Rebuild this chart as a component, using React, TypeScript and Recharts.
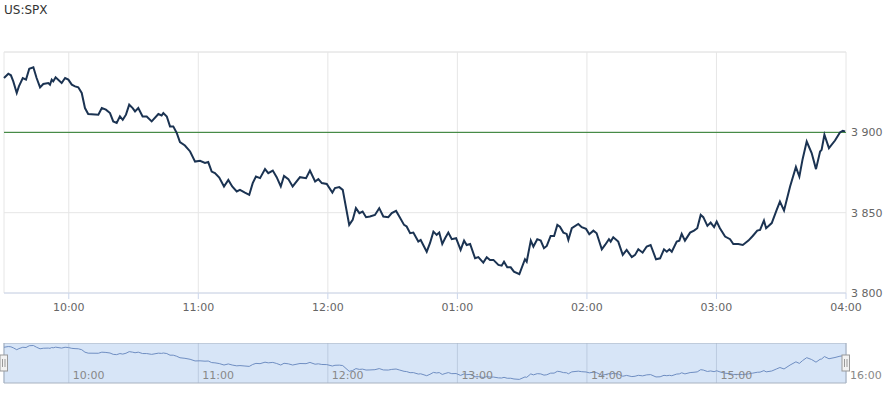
import {
  CartesianGrid,
  Line,
  LineChart,
  ReferenceArea,
  ReferenceDot,
  ReferenceLine,
  XAxis,
  YAxis
} from "recharts";

// minutes since 09:30
const minutes = [
  0, 2.0, 3.2, 4.3, 5.9, 6.9, 8.7, 10.2, 11.7, 13.6, 15.1, 16.7, 18.2, 20.5, 21.3, 22.1, 22.8, 23.9,
  26.7, 28.3, 29.8, 31.4, 32.9, 34.4, 36.0, 37.5, 39.0, 43.7, 45.3, 47.2, 49.1, 50.6, 52.2, 53.7,
  55.0, 56.5, 58.0, 59.6, 60.7, 62.2, 64.2, 66.1, 68.4, 71.5, 73.0, 73.8, 75.4, 76.9, 78.4, 80.0,
  81.5, 83.8, 86.2, 88.5, 90.8, 93.1, 94.6, 96.2, 97.7, 99.7, 101.9, 103.9, 105.7, 107.8, 109.3,
  111.6, 113.6, 115.2, 116.7, 118.6, 120.9, 122.4, 124.5, 126.3, 128.2, 129.7, 131.7, 133.7, 137.1,
  139.9, 141.7, 144.1, 145.6, 147.2, 149.5, 152.1, 153.3, 155.3, 156.9, 159.9, 161.5, 163.0, 164.6,
  166.1, 167.7, 169.5, 171.8, 173.8, 175.7, 178.0, 179.6, 181.6, 183.1, 185.3, 186.5, 188.1, 189.6,
  191.9, 193.0, 195.8, 197.3, 198.9, 200.4, 201.6, 203.0, 204.3, 205.8, 207.4, 209.4, 211.5, 213.1,
  214.3, 215.9, 218.2, 219.7, 222.0, 223.6, 225.1, 226.7, 229.0, 230.5, 231.6, 233.1, 234.7, 236.2,
  238.7, 241.3, 242.1, 244.0, 245.2, 247.0, 248.6, 250.1, 251.4, 253.2, 254.8, 256.3, 257.5, 259.1,
  260.6, 261.4, 263.0, 266.0, 267.6, 269.6, 271.1, 273.0, 274.5, 276.9, 278.4, 280.2, 281.0, 282.2,
  284.5, 286.6, 288.4, 290.8, 292.3, 293.8, 295.8, 297.7, 299.5, 302.0, 303.9, 305.7, 307.0, 308.2,
  309.3, 311.6, 312.8, 313.9, 315.4, 317.8, 319.6, 321.1, 322.7, 323.9, 325.8, 327.3, 328.9, 330.1,
  331.6, 334.0, 336.3, 337.8, 340.1, 342.2, 344.8, 346.8, 348.9, 350.2, 352.0, 353.0, 355.6, 357.9,
  359.4, 361.3, 364.1, 366.8, 368.4, 369.9, 371.8, 374.1, 376.1, 378.0, 378.7, 380.0, 382.1, 384.9,
  387.2, 388.5, 389.6
];

const prices = [
  3933.8, 3936.5, 3935.5, 3931.7, 3924.5, 3928.6, 3933.8, 3932.8, 3939.6, 3940.5, 3933.8, 3928.0,
  3930.1, 3930.7, 3929.7, 3932.8, 3931.7, 3934.2, 3930.7, 3933.8, 3932.8, 3929.7, 3928.6, 3928.0,
  3924.5, 3915.1, 3911.4, 3911.0, 3915.1, 3914.1, 3912.0, 3906.8, 3905.8, 3909.9, 3907.8, 3911.0,
  3917.2, 3915.1, 3913.0, 3915.1, 3909.9, 3909.9, 3906.8, 3911.4, 3910.5, 3912.0, 3909.9, 3903.7,
  3903.7, 3899.6, 3893.9, 3891.8, 3888.1, 3881.8, 3882.3, 3880.9, 3881.5, 3875.6, 3874.6, 3871.9,
  3866.3, 3870.4, 3866.3, 3863.2, 3864.2, 3862.5, 3861.1, 3868.4, 3872.5, 3871.5, 3877.1, 3874.6,
  3876.2, 3872.1, 3866.3, 3872.9, 3870.9, 3866.3, 3872.1, 3871.5, 3876.2, 3869.4, 3870.9, 3868.4,
  3867.9, 3862.5, 3865.3, 3865.9, 3864.2, 3842.4, 3845.5, 3852.8, 3849.7, 3850.7, 3847.2, 3847.6,
  3848.6, 3852.8, 3847.6, 3847.2, 3849.7, 3851.1, 3847.6, 3842.4, 3841.4, 3837.2, 3837.6, 3832.0,
  3833.0, 3825.7, 3831.0, 3838.2, 3836.2, 3837.6, 3830.5, 3834.1, 3837.6, 3833.5, 3834.1, 3826.8,
  3832.6, 3829.9, 3830.5, 3821.6, 3822.3, 3818.9, 3822.3, 3820.6, 3820.6, 3817.5, 3817.0, 3819.5,
  3816.0, 3816.0, 3813.3, 3811.7, 3821.0, 3819.5, 3832.6, 3828.9, 3833.5, 3832.6, 3827.9, 3829.3,
  3835.5, 3835.5, 3842.4, 3841.3, 3837.6, 3836.8, 3833.0, 3840.3, 3843.0, 3841.0, 3839.9, 3836.6,
  3838.8, 3837.2, 3827.2, 3829.9, 3833.5, 3832.0, 3834.7, 3832.0, 3823.7, 3826.8, 3822.3, 3823.7,
  3827.2, 3825.1, 3828.9, 3829.9, 3821.0, 3821.6, 3827.2, 3825.7, 3827.2, 3825.7, 3832.0, 3832.6,
  3836.8, 3832.6, 3837.6, 3838.8, 3840.3, 3848.6, 3847.2, 3841.8, 3843.8, 3841.0, 3844.5, 3840.3,
  3835.1, 3833.5, 3830.5, 3830.5, 3829.9, 3832.6, 3835.5, 3838.8, 3839.3, 3845.1, 3840.3, 3843.5,
  3851.7, 3856.9, 3851.3, 3866.3, 3878.4, 3872.5, 3883.3, 3894.3, 3887.1, 3877.1, 3888.1, 3889.1,
  3898.5, 3890.2, 3894.9, 3899.9, 3901.0, 3900.6
];

const previousClose = 3900;

const hourTicks = [30, 90, 150, 210, 270, 330, 390];
const hourLabels = ["10:00", "11:00", "12:00", "01:00", "02:00", "03:00", "04:00"];
const navLabels = ["10:00", "11:00", "12:00", "13:00", "14:00", "15:00", "16:00"];

const priceTicks = [3800, 3850, 3900];
const priceDomain = [3800, 3950];
const navDomain = [3798, 3950];

const data = minutes.map((m, i) => ({ m, v: prices[i] }));

const FONT = "'DejaVu Sans', Verdana, sans-serif";
const LABEL = { fontSize: 11, fill: "#666", fontFamily: FONT };

const fmtPrice = (v: number) =>
  `${Math.floor(v / 1000)} ${String(v % 1000).padStart(3, "0")}`;

const hourLabel = (v: number) => hourLabels[hourTicks.indexOf(v)] ?? "";

// navigator labels sit inside the band, left-aligned after the grid line
function NavTick(props: any) {
  const { x, y, payload } = props;
  const label = navLabels[hourTicks.indexOf(payload.value)] ?? "";
  return (
    <text x={x + 4} y={y - 4.5} fontSize={11} fill="#888" fontFamily={FONT} textAnchor="start">
      {label}
    </text>
  );
}

function Handle({ cx, cy }: any) {
  return (
    <g>
      <rect x={cx - 4} y={cy - 8} width={7.5} height={16} fill="#f2f2f2" stroke="#999" />
      <line x1={cx - 1.5} x2={cx - 1.5} y1={cy - 4} y2={cy + 4} stroke="#999" />
      <line x1={cx + 1} x2={cx + 1} y1={cy - 4} y2={cy + 4} stroke="#999" />
    </g>
  );
}

export default function App() {
  return (
    <div
      style={{
        position: "absolute",
        left: 0,
        top: 0,
        width: 892,
        height: 394,
        background: "#fff",
        fontFamily: FONT
      }}
    >
      <div
        style={{
          position: "absolute",
          left: 4,
          top: 3,
          fontSize: 12,
          lineHeight: "14px",
          color: "#333"
        }}
      >
        US:SPX
      </div>

      <div style={{ position: "absolute", left: 0, top: 0 }}>
        <LineChart
          width={892}
          height={320}
          data={data}
          margin={{ top: 52, right: 0, left: 4, bottom: 0 }}
        >
          <CartesianGrid stroke="#e6e6e6" />
          <XAxis
            dataKey="m"
            type="number"
            domain={[0, 390]}
            ticks={hourTicks}
            interval={0}
            tickFormatter={hourLabel}
            height={27}
            stroke="#ccd6eb"
            tickSize={6}
            tickMargin={4}
            tick={LABEL}
          />
          <YAxis
            orientation="right"
            type="number"
            domain={priceDomain}
            ticks={priceTicks}
            interval={0}
            tickFormatter={fmtPrice}
            width={46}
            axisLine={false}
            tickLine={false}
            tickSize={0}
            tickMargin={5}
            tick={{ ...LABEL, textAnchor: "start" }}
          />
          <ReferenceLine y={priceDomain[1]} stroke="#e6e6e6" />
          <ReferenceLine y={previousClose} stroke="#267826" strokeWidth={1} />
          <Line
            type="linear"
            dataKey="v"
            stroke="#1b3352"
            strokeWidth={2}
            dot={false}
            activeDot={false}
            isAnimationActive={false}
          />
        </LineChart>
      </div>

      <div style={{ position: "absolute", left: 0, top: 343 }}>
        <LineChart
          width={892}
          height={51}
          data={data}
          margin={{ top: 0, right: 46, left: 4, bottom: 0 }}
        >
          <CartesianGrid
            horizontal={false}
            stroke="#bccbe0"
            fill="#d7e5f7"
            fillOpacity={1}
          />
          <YAxis hide type="number" domain={navDomain} />
          <ReferenceArea
            x1={0}
            x2={390}
            fill="none"
            stroke="#a8b2c0"
            strokeWidth={1}
          />
          <Line
            type="linear"
            dataKey="v"
            stroke="#6f8ec2"
            strokeWidth={1}
            dot={false}
            activeDot={false}
            isAnimationActive={false}
          />
          <ReferenceDot
            x={0}
            y={(navDomain[0] + navDomain[1]) / 2}
            shape={<Handle />}
          />
          <ReferenceDot
            x={390}
            y={(navDomain[0] + navDomain[1]) / 2}
            shape={<Handle />}
          />
          <XAxis
            dataKey="m"
            type="number"
            domain={[0, 390]}
            ticks={hourTicks}
            interval={0}
            height={11}
            axisLine={false}
            tickLine={false}
            tickSize={0}
            tickMargin={0}
            tick={NavTick}
          />
        </LineChart>
      </div>
    </div>
  );
}
